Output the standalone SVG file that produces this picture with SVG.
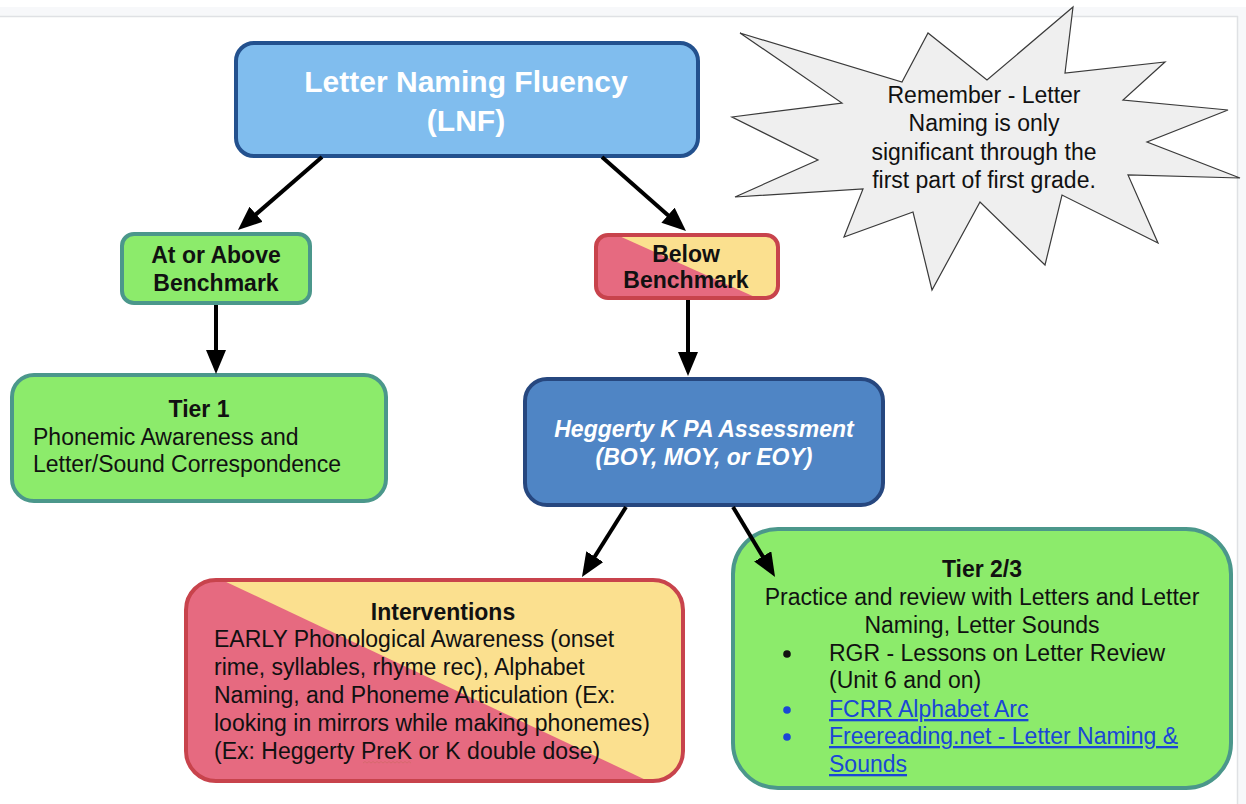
<svg xmlns="http://www.w3.org/2000/svg" width="1246" height="804" viewBox="0 0 1246 804">
  <defs>
    <style>
      .t { font-family: "Liberation Sans", Arial, sans-serif; font-size: 23px; fill: #111; }
      .b { font-weight: bold; }
      .c { text-anchor: middle; }
      .w { fill: #ffffff; }
      .lnk { fill: #1a47d6; text-decoration: underline; }
      .green { fill: #8ceb6b; stroke: #4b978b; stroke-width: 4; }
      .blue1 { fill: #80bdee; stroke: #23518e; stroke-width: 4; }
      .blue2 { fill: #4f85c5; stroke: #26477f; stroke-width: 4; }
      .redline { fill: none; stroke: #c8434c; stroke-width: 4; }
      .pink { fill: #e66a80; }
      .yellow { fill: #fbe08f; }
      .conn { stroke: #000; stroke-width: 4; fill: none; marker-end: url(#head); }
    </style>
    <marker id="head" markerUnits="userSpaceOnUse" markerWidth="24" markerHeight="20" refX="14" refY="10" orient="auto">
      <path d="M0,0 L24,10 L0,20 z" fill="#000"/>
    </marker>
    <clipPath id="clipBelow">
      <rect x="596" y="235" width="182" height="63" rx="12"/>
    </clipPath>
    <clipPath id="clipInterv">
      <rect x="186" y="580" width="497" height="201" rx="30"/>
    </clipPath>
  </defs>

  <!-- page frame -->
  <rect x="0" y="0" width="1246" height="804" fill="#ffffff"/>
  <rect x="0" y="7" width="1246" height="9" fill="#f7f8fa"/>
  <rect x="1238" y="7" width="8" height="797" fill="#f7f8fa"/>
  <line x1="0" y1="16.5" x2="1238" y2="16.5" stroke="#dfe1e4" stroke-width="1.5"/>
  <line x1="1237.5" y1="16" x2="1237.5" y2="804" stroke="#dfe1e4" stroke-width="1.5"/>

  <!-- callout burst -->
  <g id="note">
    <polygon points="740,33 902,82 928,33 987,80 1073,7 1065,73 1165,62 1123,100 1228,110 1147,142 1240,178 1128,175 1158,243 1062,195 1045,265 980,202 932,290 913,212 844,237 863,189 735,197 818,160 732,117 842,103" fill="#efefef" stroke="#3a3a3a" stroke-width="1.2" stroke-linejoin="miter"/>
    <text class="t c" x="984" y="103">Remember - Letter</text>
    <text class="t c" x="984" y="131">Naming is only</text>
    <text class="t c" x="984" y="160">significant through the</text>
    <text class="t c" x="984" y="188">first part of first grade.</text>
  </g>

  <g id="lnf">
    <rect class="blue1" x="236" y="43" width="462" height="113" rx="18"/>
    <text class="t b c w" x="466" y="92" style="font-size:30px">Letter Naming Fluency</text>
    <text class="t b c w" x="466" y="131" style="font-size:30px">(LNF)</text>
  </g>

  <g id="above">
    <rect class="green" x="122" y="234" width="188" height="69" rx="12"/>
    <text class="t b c" x="216" y="263">At or Above</text>
    <text class="t b c" x="216" y="291">Benchmark</text>
  </g>

  <g id="below">
    <g clip-path="url(#clipBelow)">
      <rect class="pink" x="596" y="235" width="182" height="63"/>
      <polygon class="yellow" points="617,235 778,235 778,298 757,298"/>
    </g>
    <rect class="redline" x="596" y="235" width="182" height="63" rx="12"/>
    <text class="t b c" x="686" y="262">Below</text>
    <text class="t b c" x="686" y="288">Benchmark</text>
  </g>

  <g id="tier1">
    <rect class="green" x="12" y="375" width="374" height="126" rx="22"/>
    <text class="t b c" x="199" y="417">Tier 1</text>
    <text class="t" x="33" y="445">Phonemic Awareness and</text>
    <text class="t" x="33" y="472">Letter/Sound Correspondence</text>
  </g>

  <g id="heggerty">
    <rect class="blue2" x="525" y="379" width="358" height="126" rx="22"/>
    <text class="t b c w" x="704" y="437" font-style="italic">Heggerty K PA Assessment</text>
    <text class="t b c w" x="704" y="465" font-style="italic">(BOY, MOY, or EOY)</text>
  </g>

  <g id="interventions">
    <g clip-path="url(#clipInterv)">
      <rect class="pink" x="186" y="580" width="497" height="201"/>
      <polygon class="yellow" points="222,580 683,580 683,781 648,781"/>
    </g>
    <rect class="redline" x="186" y="580" width="497" height="201" rx="30"/>
    <text class="t b c" x="443" y="620">Interventions</text>
    <text class="t" x="214" y="647">EARLY Phonological Awareness (onset</text>
    <text class="t" x="214" y="675">rime, syllables, rhyme rec), Alphabet</text>
    <text class="t" x="214" y="703">Naming, and Phoneme Articulation (Ex:</text>
    <text class="t" x="214" y="731">looking in mirrors while making phonemes)</text>
    <text class="t" x="214" y="759">(Ex: Heggerty PreK or K double dose)</text>
    <path d="M363,763 l2,-1.5 l2,1.5 l2,-1.5 l2,1.5 l2,-1.5 l2,1.5 l2,-1.5 l2,1.5 l2,-1.5 l2,1.5 l2,-1.5 l2,1.5 l2,-1.5 l2,1.5 l2,-1.5 l2,1.5 l2,-1.5 l2,1.5 l2,-1.5 l2,1.5 l2,-1.5 l2,1.5 l2,-1.5 l2,1.5" fill="none" stroke="#d26a6a" stroke-width="0.8"/>
  </g>

  <g id="tier23">
    <rect class="green" x="733" y="529" width="498" height="259" rx="45"/>
    <text class="t b c" x="982" y="577">Tier 2/3</text>
    <text class="t c" x="982" y="605">Practice and review with Letters and Letter</text>
    <text class="t c" x="982" y="633">Naming, Letter Sounds</text>
    <circle cx="787" cy="654" r="3.8" fill="#111"/>
    <text class="t" x="829" y="661">RGR - Lessons on Letter Review</text>
    <text class="t" x="829" y="688">(Unit 6 and on)</text>
    <circle cx="787" cy="710" r="3.8" fill="#1a47d6"/>
    <text class="t lnk" x="829" y="717">FCRR Alphabet Arc</text>
    <circle cx="787" cy="737" r="3.8" fill="#1a47d6"/>
    <text class="t lnk" x="829" y="744">Freereading.net - Letter Naming &amp;</text>
    <text class="t lnk" x="829" y="772">Sounds</text>
  </g>

  <g id="connectors">
    <line class="conn" x1="322" y1="157" x2="245.5" y2="223.4"/>
    <line class="conn" x1="602" y1="157" x2="678.5" y2="224.4"/>
    <line class="conn" x1="216" y1="305" x2="216" y2="364"/>
    <line class="conn" x1="688" y1="300" x2="688" y2="366"/>
    <line class="conn" x1="626" y1="507" x2="587.3" y2="568.5"/>
    <line class="conn" x1="733" y1="507" x2="769.9" y2="568.4"/>
  </g>
</svg>
